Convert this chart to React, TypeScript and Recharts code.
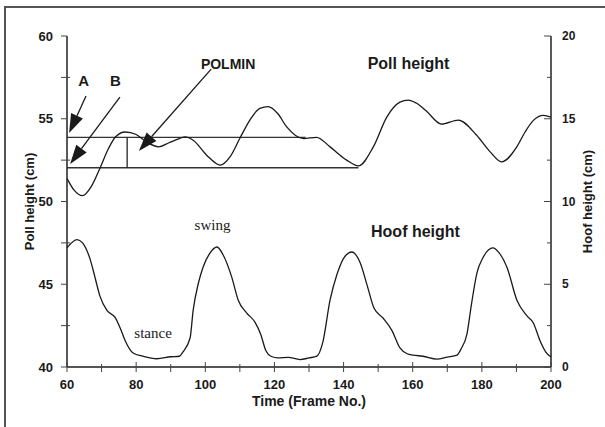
import { LineChart, Line, XAxis, YAxis, ReferenceLine, ReferenceDot, Label } from 'recharts'

// poll trace (left axis, cm) vs frame
const pollFrames = [60, 62, 64.5, 67, 69.5, 72, 74, 76.8, 80, 83, 86.5, 89.5, 92.5, 94.1, 96.5, 100.4, 104.3, 107.2, 110, 112.9, 115.8, 118.2, 121, 123.5, 128.4, 132.2, 136.1, 140.9, 144.3, 148.6, 152.5, 156.3, 158.7, 161, 163.8, 168.3, 173.2, 178.5, 182.4, 185.7, 190.1, 192.5, 194.9, 197.8, 200]
const pollValues = [51.4, 50.7, 50.35, 50.9, 52.0, 53.2, 53.9, 54.2, 54.05, 53.6, 53.3, 53.55, 53.8, 53.9, 53.7, 52.8, 52.2, 52.71, 53.82, 54.92, 55.63, 55.73, 55.3, 54.52, 53.8, 53.88, 53.3, 52.5, 52.15, 53.3, 55.1, 56.0, 56.13, 55.95, 55.5, 54.68, 54.92, 54.0, 53.0, 52.4, 53.3, 54.2, 54.9, 55.2, 55.1]

// hoof trace (right axis, cm) vs frame
const hoofFrames = [60, 62.9, 64.5, 66.7, 68, 69.5, 71.6, 73.9, 75.5, 76.8, 79.1, 82, 86, 90, 92.5, 93.5, 95.6, 96.5, 98, 99.3, 101.4, 103.4, 105.1, 107.7, 109.5, 112, 114.4, 116, 117.5, 119, 121, 124, 127.4, 130, 132.3, 134, 136.1, 138.1, 140.1, 142.4, 144.8, 146.8, 148.8, 151.4, 154, 156.3, 158.4, 160.1, 163, 167, 170, 172.8, 174, 175.7, 177, 178.6, 180.3, 183.2, 185, 187.3, 190.2, 193, 194.9, 196.8, 198.5, 200]
const hoofValues = [7.2, 7.7, 7.5, 6.5, 5.5, 4.3, 3.4, 3.0, 2.3, 1.6, 0.85, 0.65, 0.5, 0.62, 0.65, 0.9, 1.75, 3.44, 5.06, 6.0, 6.9, 7.25, 6.8, 5.4, 4.05, 3.26, 2.7, 2.0, 1.0, 0.65, 0.55, 0.58, 0.45, 0.55, 0.66, 1.5, 4.05, 5.6, 6.6, 6.95, 6.3, 4.95, 3.56, 2.96, 2.2, 1.15, 0.8, 0.72, 0.65, 0.48, 0.6, 0.72, 1.1, 2.0, 3.8, 5.7, 6.6, 7.2, 6.9, 6.0, 4.0, 3.1, 2.66, 1.6, 0.9, 0.6]

const frameTicks = [60, 70, 80, 90, 100, 110, 120, 130, 140, 150, 160, 170, 180, 190, 200]
const pollTicks = [40, 42.5, 45, 47.5, 50, 52.5, 55, 57.5, 60]
const hoofTicks = [0, 2.5, 5, 7.5, 10, 12.5, 15, 17.5, 20]

// POLMIN box: upper level, lower level, marker frame
const polUpper = 53.88
const polLower = 52.04
const polUpperEnd = 129
const polLowerEnd = 144.3
const polMark = 77.4

const pollData = pollFrames.map((f, i) => ({ frame: f, poll: pollValues[i] }))
const hoofData = hoofFrames.map((f, i) => ({ frame: f, hoof: hoofValues[i] }))

const sans = '"Liberation Sans", Arial, sans-serif'
const serif = '"Liberation Serif", "Times New Roman", serif'
const ink = '#1a1a1a'

const LeftTick = (props: any) => {
  const { x, y, payload } = props
  const major = payload.value % 5 === 0
  return (
    <g>
      <line x1={x - 6} x2={major ? x : x + 3} y1={y} y2={y} stroke="#444" strokeWidth={1} />
      {major && (
        <text x={x - 14} y={y} textAnchor="end" dominantBaseline="central" fontFamily={sans} fontWeight="bold" fontSize={13} fill={ink}>
          {payload.value}
        </text>
      )}
    </g>
  )
}

const RightTick = (props: any) => {
  const { x, y, payload } = props
  const major = payload.value % 5 === 0
  return (
    <g>
      <line x1={major ? x - 7 : x - 4} x2={x} y1={y} y2={y} stroke="#444" strokeWidth={1} />
      {major && (
        <text x={x + 11} y={y} textAnchor="start" dominantBaseline="central" fontFamily={sans} fontWeight="bold" fontSize={12} fill={ink}>
          {payload.value}
        </text>
      )}
    </g>
  )
}

const BottomTick = (props: any) => {
  const { x, y, payload } = props
  const major = payload.value % 20 === 0
  return (
    <g>
      <line x1={x} x2={x} y1={major ? y - 5 : y - 3} y2={y + 5} stroke="#444" strokeWidth={1} />
      {major && (
        <text x={x} y={y + 22} textAnchor="middle" fontFamily={sans} fontWeight="bold" fontSize={13} fill={ink}>
          {payload.value}
        </text>
      )}
    </g>
  )
}

const Arrow = (props: any) => {
  const { x1, y1, x2, y2 } = props
  const ang = Math.atan2(y2 - y1, x2 - x1)
  const len = 19
  const half = 6.5
  const bx = x2 - len * Math.cos(ang)
  const by = y2 - len * Math.sin(ang)
  const pts = [
    `${x2},${y2}`,
    `${bx + half * Math.sin(ang)},${by - half * Math.cos(ang)}`,
    `${bx - half * Math.sin(ang)},${by + half * Math.cos(ang)}`
  ].join(' ')
  return (
    <g>
      <line x1={x1} y1={y1} x2={bx} y2={by} stroke={ink} strokeWidth={1.3} />
      <polygon points={pts} fill={ink} />
    </g>
  )
}

const note = (text: string, size: number, family: string, bold: boolean) => (props: any) => {
  const vb = props.viewBox || {}
  return (
    <text x={vb.x} y={vb.y} textAnchor="middle" fontFamily={family} fontWeight={bold ? 'bold' : 'normal'} fontSize={size} fill={ink}>
      {text}
    </text>
  )
}

const sideLabel = (text: string, dx: number) => (props: any) => {
  const vb = props.viewBox || {}
  const cx = vb.x + dx
  const cy = vb.y + vb.height / 2
  return (
    <text x={cx} y={cy} transform={`rotate(-90 ${cx} ${cy})`} textAnchor="middle" dominantBaseline="central" fontFamily={sans} fontWeight="bold" fontSize={13} fill={ink}>
      {text}
    </text>
  )
}

const timeLabel = (props: any) => {
  const vb = props.viewBox || {}
  return (
    <text x={vb.x + vb.width / 2} y={vb.y + 39} textAnchor="middle" fontFamily={sans} fontWeight="bold" fontSize={14} fill={ink}>
      Time (Frame No.)
    </text>
  )
}

export default function App() {
  return (
    <div style={{ position: 'absolute', left: 0, top: 0, width: 605, height: 427, overflow: 'hidden', background: '#fff' }}>
      <div style={{ position: 'absolute', left: 4, top: 6, width: 800, height: 600, borderTop: '2px solid #555', borderLeft: '2px solid #555' }} />
      <div style={{ position: 'absolute', left: 0, top: 0 }}>
        <LineChart width={605} height={427} margin={{ top: 36, right: 0, bottom: 0, left: 0 }}>
          <XAxis dataKey="frame" type="number" domain={[60, 200]} ticks={frameTicks} height={60} tickSize={0} tickMargin={0} tick={<BottomTick />} axisLine={{ stroke: '#555', strokeWidth: 2 }} tickLine={false}>
            <Label content={timeLabel} />
          </XAxis>
          <YAxis yAxisId="poll" orientation="left" domain={[40, 60]} ticks={pollTicks} width={67} tickSize={0} tickMargin={0} tick={<LeftTick />} axisLine={{ stroke: '#222', strokeWidth: 1.5 }} tickLine={false}>
            <Label content={sideLabel('Poll height (cm)', 29)} />
          </YAxis>
          <YAxis yAxisId="hoof" orientation="right" domain={[0, 20]} ticks={hoofTicks} width={54} tickSize={0} tickMargin={0} tick={<RightTick />} axisLine={{ stroke: '#222', strokeWidth: 1.5 }} tickLine={false}>
            <Label content={sideLabel('Hoof height (cm)', 36)} />
          </YAxis>

          <ReferenceLine yAxisId="poll" segment={[{ x: 60, y: polUpper }, { x: polUpperEnd, y: polUpper }]} stroke="#333" strokeWidth={1.2} />
          <ReferenceLine yAxisId="poll" segment={[{ x: 60, y: polLower }, { x: polLowerEnd, y: polLower }]} stroke="#333" strokeWidth={1.5} />
          <ReferenceLine yAxisId="poll" segment={[{ x: polMark, y: polLower }, { x: polMark, y: polUpper }]} stroke="#222" strokeWidth={1.3} />

          <Line yAxisId="poll" data={pollData} dataKey="poll" type="monotone" stroke={ink} strokeWidth={1.3} dot={false} activeDot={false} isAnimationActive={false} />
          <Line yAxisId="hoof" data={hoofData} dataKey="hoof" type="monotone" stroke={ink} strokeWidth={1.3} dot={false} activeDot={false} isAnimationActive={false} />

          <ReferenceLine yAxisId="poll" segment={[{ x: 65.5, y: 56.37 }, { x: 60.6, y: 54.14 }]} shape={<Arrow />} />
          <ReferenceLine yAxisId="poll" segment={[{ x: 75.3, y: 56.3 }, { x: 60.9, y: 52.27 }]} shape={<Arrow />} />
          <ReferenceLine yAxisId="poll" segment={[{ x: 101.7, y: 58.0 }, { x: 80.8, y: 53.05 }]} shape={<Arrow />} />

          <ReferenceDot yAxisId="poll" x={64.8} y={57.0} r={0} fill="none" stroke="none" label={note('A', 15, sans, true)} />
          <ReferenceDot yAxisId="poll" x={74.0} y={57.0} r={0} fill="none" stroke="none" label={note('B', 15, sans, true)} />
          <ReferenceDot yAxisId="poll" x={106.6} y={58.0} r={0} fill="none" stroke="none" label={note('POLMIN', 14, sans, true)} />
          <ReferenceDot yAxisId="poll" x={158.8} y={57.98} r={0} fill="none" stroke="none" label={note('Poll height', 16, sans, true)} />
          <ReferenceDot yAxisId="poll" x={160.8} y={47.85} r={0} fill="none" stroke="none" label={note('Hoof height', 16, sans, true)} />
          <ReferenceDot yAxisId="poll" x={102.1} y={48.28} r={0} fill="none" stroke="none" label={note('swing', 15, serif, false)} />
          <ReferenceDot yAxisId="poll" x={84.9} y={41.75} r={0} fill="none" stroke="none" label={note('stance', 15, serif, false)} />
        </LineChart>
      </div>
    </div>
  )
}
